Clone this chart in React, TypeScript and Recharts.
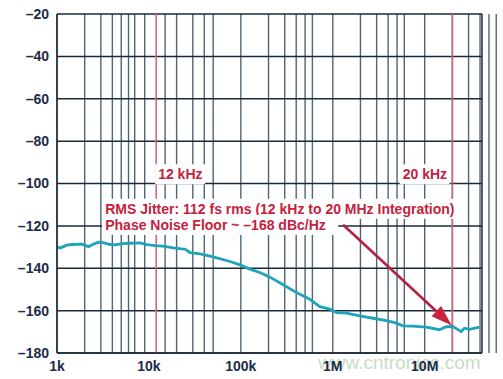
import {
  ComposedChart,
  Line,
  XAxis,
  YAxis,
  CartesianGrid,
  ReferenceLine,
  ReferenceDot,
} from "recharts"

// offset frequency (Hz) and phase noise (dBc/Hz)
const FREQ = [
  1000, 1090, 1280, 1450, 1870, 2200, 2500, 2830, 3180, 3790, 4300, 5080, 6250,
  8000, 9500, 11700, 14300, 18300, 22700, 24700, 28000, 36000, 50000, 76000,
  98000, 125000, 161000, 207000, 289000, 403000, 562000, 722000, 927000,
  1100000, 1410000, 1970000, 2740000, 3830000, 4920000, 5800000, 7450000,
  10400000, 14500000, 17100000, 20200000, 24900000, 27100000, 30700000, 39500000,
]
const NOISE = [
  -130.0, -130.4, -129.1, -128.8, -128.6, -129.8, -128.6, -127.7, -127.9,
  -128.8, -129.0, -128.4, -128.2, -128.0, -128.8, -129.3, -129.6, -130.4,
  -130.9, -131.0, -132.6, -133.2, -134.6, -136.8, -138.4, -140.4, -142.0,
  -144.2, -147.8, -151.5, -154.6, -158.1, -159.3, -160.9, -161.2, -162.5,
  -163.6, -164.7, -165.9, -167.2, -167.3, -167.8, -169.0, -167.6, -167.5,
  -169.9, -168.3, -168.8, -167.8,
]

const X_TICKS = [1e3, 1e4, 1e5, 1e6, 1e7]
const X_TICK_LABELS = ["1k", "10k", "100k", "1M", "10M"]
const Y_TICKS = [-180, -160, -140, -120, -100, -80, -60, -40, -20]
const X_MAX = 4.2e7

const DECADES = [1e3, 1e4, 1e5, 1e6, 1e7]
const MULTS = [1, 2, 3, 4, 5, 6, 7, 8, 9]
const EXTRA_GRID = [15e3, 2e7, 3e7]
const GRID_X = [
  ...DECADES.flatMap((d) => MULTS.map((m) => d * m)),
  ...EXTRA_GRID,
].sort((a, b) => a - b)

const LIMIT_LOW = 12e3
const LIMIT_HIGH = 20e6

const data = FREQ.map((f, i) => ({ f, noise: NOISE[i] }))

const RED = "#c5213e"
const NAVY = "#1d2b48"
const FONT = "'Liberation Sans', Arial, Helvetica, sans-serif"

function boxLabel(text: string, w: number) {
  return (p: any) => (
    <g>
      <rect x={p.cx - 3} y={p.cy - 15} width={w} height={20} fill="#fff" />
      <text
        x={p.cx}
        y={p.cy}
        fill={RED}
        fontSize={14}
        fontWeight="bold"
        fontFamily={FONT}
      >
        {text}
      </text>
    </g>
  )
}

function Arrow(p: any) {
  const { x1, y1, x2, y2 } = p
  const a = Math.atan2(y2 - y1, x2 - x1)
  const len = 21
  const half = 7
  const bx = x2 - len * Math.cos(a)
  const by = y2 - len * Math.sin(a)
  const nx = -Math.sin(a) * half
  const ny = Math.cos(a) * half
  return (
    <g>
      <line x1={x1} y1={y1} x2={bx} y2={by} stroke="#b3223f" strokeWidth={2.6} />
      <polygon
        points={`${x2},${y2} ${bx + nx},${by + ny} ${bx - nx},${by - ny}`}
        fill="#c8233f"
      />
    </g>
  )
}

export default function App() {
  return (
    <div style={{ width: 503, height: 379, background: "#fff" }}>
      <style>{`body{margin:0}`}</style>
      <ComposedChart
        width={503}
        height={379}
        data={data}
        margin={{ top: 14, right: 21, bottom: 0, left: 0 }}
      >
        <text
          x={318}
          y={369}
          fill="#c9dcc3"
          fontSize={19}
          fontFamily={FONT}
        >
          www.cntronics.com
        </text>
        <CartesianGrid
          verticalValues={GRID_X}
          stroke="#4f6577"
          strokeWidth={1.4}
          horizontal={false}
        />
        <CartesianGrid
          horizontalValues={Y_TICKS}
          stroke="#1b2836"
          strokeWidth={1.5}
          vertical={false}
        />
        <XAxis
          dataKey="f"
          type="number"
          scale="log"
          domain={[1e3, X_MAX]}
          ticks={X_TICKS}
          tickFormatter={(v) => X_TICK_LABELS[X_TICKS.indexOf(v)] ?? ""}
          height={26}
          tickLine={false}
          axisLine={{ stroke: "#1b2836", strokeWidth: 1.5 }}
          tick={{ fill: NAVY, fontSize: 14, fontWeight: "bold", fontFamily: FONT }}
          allowDataOverflow
        />
        <YAxis
          type="number"
          domain={[-180, -20]}
          ticks={Y_TICKS}
          width={57}
          tickLine={false}
          axisLine={{ stroke: "#1b2836", strokeWidth: 1.5 }}
          tickFormatter={(v) => String(v).replace("-", "\u2013")}
          tick={{ fill: NAVY, fontSize: 14, fontWeight: "bold", fontFamily: FONT }}
        />
        <ReferenceLine x={X_MAX} stroke="#1b2836" strokeWidth={1.5} />
        <ReferenceLine x={LIMIT_LOW} stroke="#c96a82" strokeWidth={1.6} />
        <ReferenceLine x={LIMIT_HIGH} stroke="#c96a82" strokeWidth={1.6} />
        <Line
          dataKey="noise"
          type="linear"
          stroke="#1ea3b8"
          strokeWidth={2.8}
          dot={false}
          isAnimationActive={false}
        />
        <ReferenceLine
          segment={[
            { x: 1.294e6, y: -119.5 },
            { x: 1.97e7, y: -167.0 },
          ]}
          shape={Arrow}
          ifOverflow="visible"
        />
        <ReferenceDot
          x={12.6e3}
          y={-98}
          r={0}
          shape={boxLabel("12 kHz", 50)}
          ifOverflow="visible"
        />
        <ReferenceDot
          x={5.76e6}
          y={-98}
          r={0}
          shape={boxLabel("20 kHz", 50)}
          ifOverflow="visible"
        />
        <ReferenceDot
          x={3.345e3}
          y={-114.3}
          r={0}
          shape={boxLabel("RMS Jitter: 112 fs rms (12 kHz to 20 MHz Integration)", 362)}
          ifOverflow="visible"
        />
        <ReferenceDot
          x={3.345e3}
          y={-121.9}
          r={0}
          shape={boxLabel("Phase Noise Floor ~ \u2013168 dBc/Hz", 236)}
          ifOverflow="visible"
        />
      </ComposedChart>
    </div>
  )
}
